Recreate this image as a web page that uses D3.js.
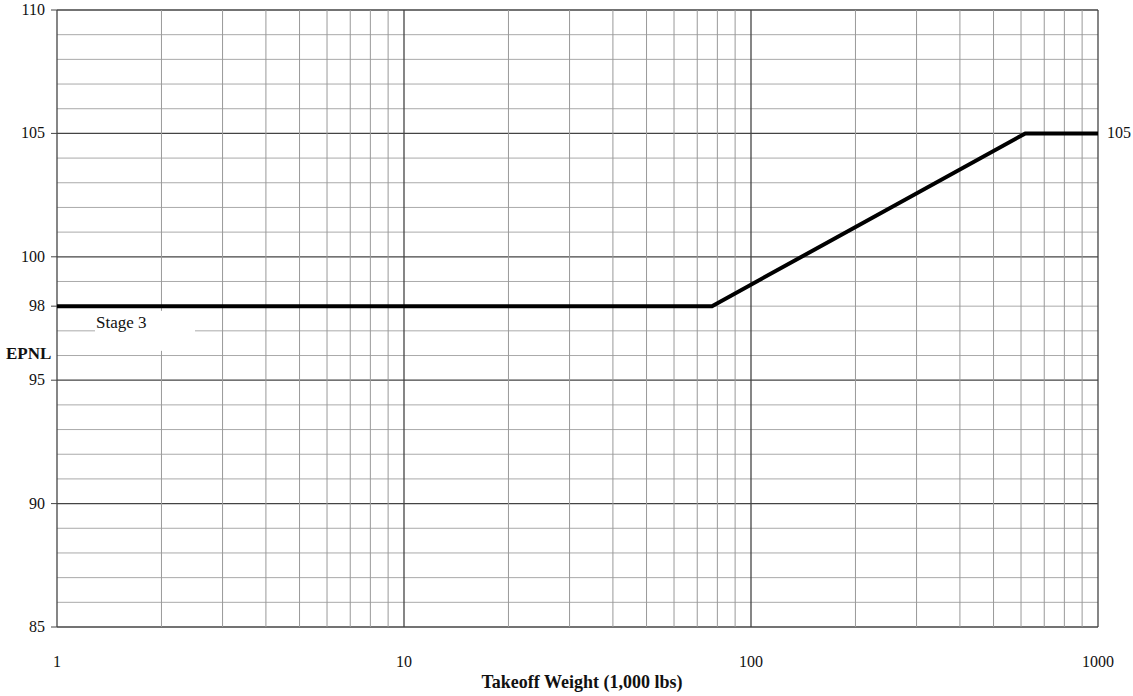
<!DOCTYPE html>
<html>
<head>
<meta charset="utf-8">
<script src="https://cdn.jsdelivr.net/npm/d3@7"></script>
<style>
  body { margin: 0; background: #fff; }
  text { font-family: "Liberation Serif", "DejaVu Serif", serif; fill: #111; }
</style>
</head>
<body>
<div id="container"></div>
<script>
// Stage 3 approach limit (EPNL vs takeoff weight)
const weights = [1, 77.2, 617.3, 1000];
const epnl    = [98, 98, 105, 105];

const xTickLabels = [1, 10, 100, 1000];
const yTickLabels = [85, 90, 95, 98, 100, 105, 110];

const width = 1133, height = 696;
const margin = { top: 10, right: 35, bottom: 69, left: 57 };
const w = width - margin.left - margin.right;
const h = height - margin.top - margin.bottom;

const svg = d3.select('#container').append('svg')
  .attr('width', width).attr('height', height);
const g = svg.append('g').attr('transform', `translate(${margin.left},${margin.top})`);

const x = d3.scaleLog().domain([1, 1000]).range([0, w]);
const y = d3.scaleLinear().domain([85, 110]).range([h, 0]);

// horizontal grid: every unit, darker every 5
d3.range(85, 111).forEach(v => {
  const major = v % 5 === 0;
  g.append('line')
    .attr('x1', 0).attr('x2', w)
    .attr('y1', y(v)).attr('y2', y(v))
    .attr('stroke', major ? '#444' : '#aaa')
    .attr('stroke-width', major ? 1.3 : 1);
});

// vertical grid: 2..9 in each decade, darker at decades
const xs = [];
[1, 10, 100].forEach(d => { for (let k = 1; k < 10; k++) xs.push(d * k); });
xs.push(1000);
xs.forEach(v => {
  const major = Math.abs(Math.log10(v) - Math.round(Math.log10(v))) < 1e-9;
  g.append('line')
    .attr('x1', x(v)).attr('x2', x(v))
    .attr('y1', 0).attr('y2', h)
    .attr('stroke', major ? '#444' : '#999')
    .attr('stroke-width', major ? 1.3 : 1);
});

// y ticks and labels
yTickLabels.forEach(v => {
  g.append('line')
    .attr('x1', -6).attr('x2', 0)
    .attr('y1', y(v)).attr('y2', y(v))
    .attr('stroke', '#444');
  g.append('text')
    .attr('x', -12).attr('y', y(v) + 5)
    .attr('text-anchor', 'end')
    .style('font-size', '16px')
    .text(v);
});

// x tick labels
xTickLabels.forEach(v => {
  g.append('text')
    .attr('x', x(v)).attr('y', h + 40)
    .attr('text-anchor', 'middle')
    .style('font-size', '16px')
    .text(v);
});

// white patch behind label
g.append('rect')
  .attr('x', 38).attr('y', y(97) - 20)
  .attr('width', 100).attr('height', 40)
  .attr('fill', '#fff');
g.append('text')
  .attr('x', 39).attr('y', y(97) - 3)
  .style('font-size', '17px')
  .text('Stage 3');

// limit line
const line = d3.line().x((d, i) => x(weights[i])).y(d => y(d));
g.append('path')
  .datum(epnl)
  .attr('fill', 'none')
  .attr('stroke', '#000')
  .attr('stroke-width', 4)
  .attr('d', line);

// right label
g.append('text')
  .attr('x', w + 9).attr('y', y(105) + 5)
  .style('font-size', '16px')
  .text('105');

// axis titles
svg.append('text')
  .attr('x', 6).attr('y', 359)
  .style('font-size', '17px')
  .style('font-weight', 'bold')
  .text('EPNL');
svg.append('text')
  .attr('x', 582).attr('y', 688)
  .attr('text-anchor', 'middle')
  .style('font-size', '18px')
  .style('font-weight', 'bold')
  .text('Takeoff Weight (1,000 lbs)');
</script>
</body>
</html>
